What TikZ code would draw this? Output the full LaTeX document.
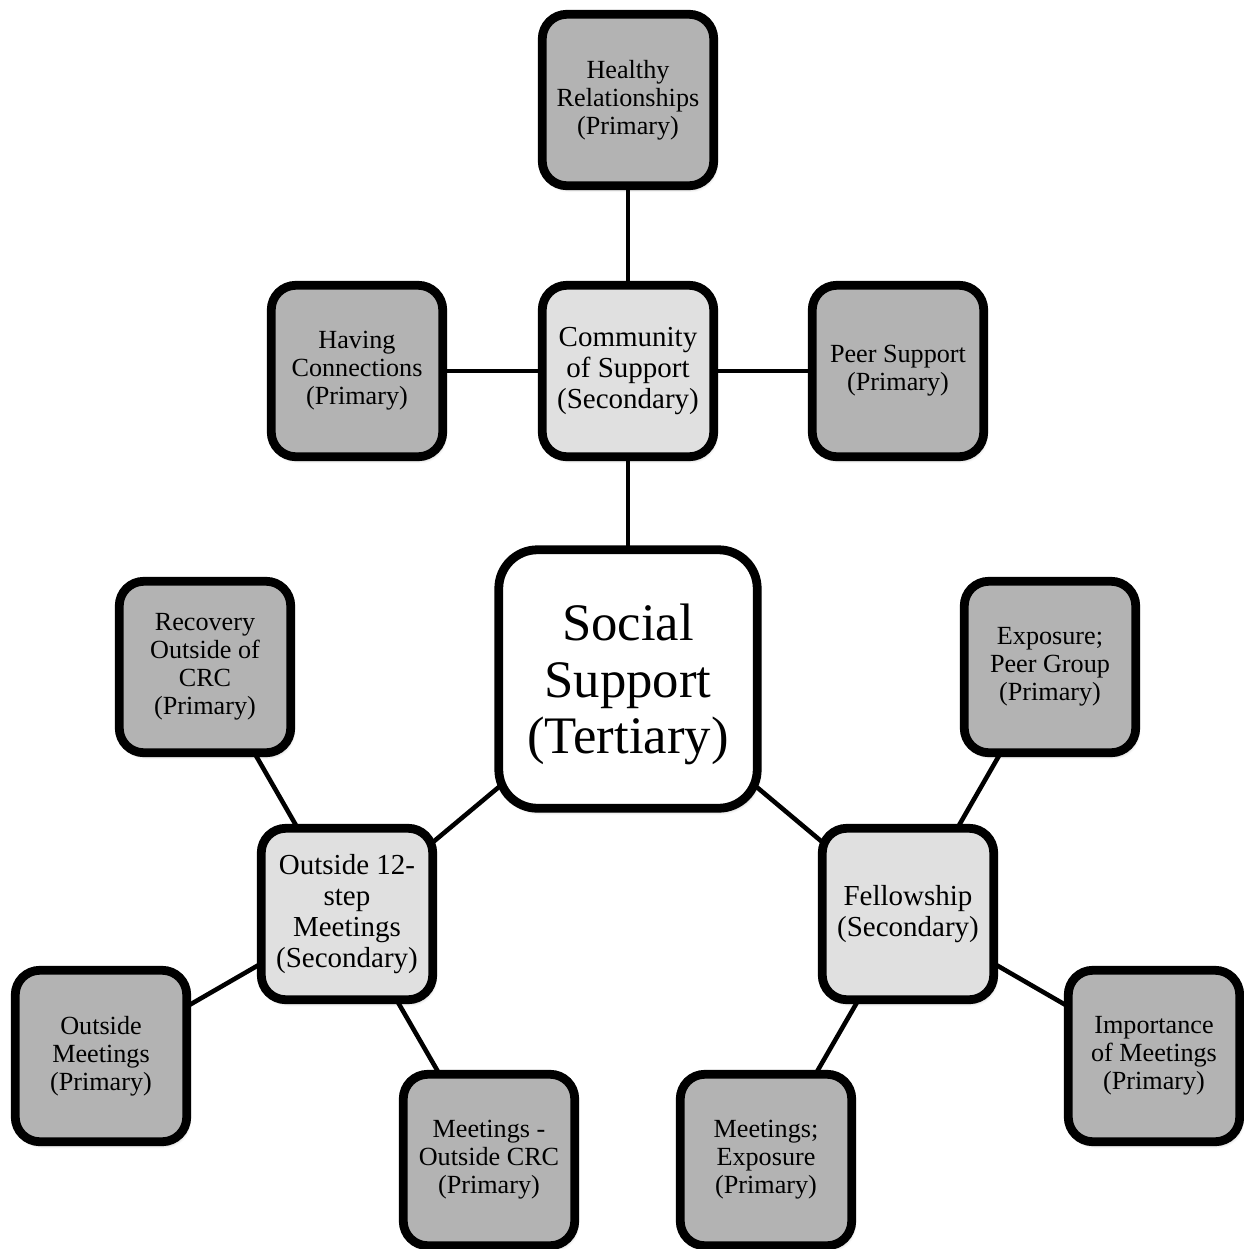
\documentclass[tikz,border=0pt]{standalone}
\usepackage{fontspec}
\setmainfont{Liberation Serif}
\usetikzlibrary{backgrounds,shadows.blur}

\definecolor{primgray}{RGB}{179,179,179}
\definecolor{secgray}{RGB}{224,224,224}

\tikzset{
  box/.style={draw=black, line width=5pt, rounded corners=14pt,
    minimum width=3.43cm, minimum height=3.43cm, align=center, inner sep=2pt,
    blur shadow={shadow xshift=1pt, shadow yshift=-2pt, shadow blur steps=5, shadow opacity=30}},
  primary/.style={box, fill=primgray, font=\fontsize{14.9}{16}\selectfont},
  secondary/.style={box, fill=secgray, font=\fontsize{16.5}{17.6}\selectfont},
  tertiary/.style={box, fill=white, rounded corners=22pt,
    minimum width=5.17cm, minimum height=5.17cm, font=\fontsize{30}{32.4}\selectfont},
  link/.style={line width=2.6pt}
}

\begin{document}
\begin{tikzpicture}[x=0.02cm,y=-0.02cm]
    \useasboundingbox (0,0) rectangle (1244,1249);

    % centre
    \node[tertiary] (social) at (628,679) {\rule{0pt}{27pt}Social\\Support\\(Tertiary)};

    % secondary themes
    \node[secondary] (community) at (628,371) {Community\\of Support\\(Secondary)};
    \node[secondary] (outside12) at (347,914) {Outside 12-\\step\\Meetings\\(Secondary)};
    \node[secondary] (fellowship) at (908,914) {Fellowship\\(Secondary)};

    % primary themes
    \node[primary] (healthy) at (628,100) {Healthy\\Relationships\\(Primary)};
    \node[primary] (having) at (357,371) {Having\\Connections\\(Primary)};
    \node[primary] (peer) at (898,371) {Peer Support\\(Primary)};
    \node[primary] (recovery) at (205,667) {Recovery\\Outside of\\CRC\\(Primary)};
    \node[primary] (outsidemeet) at (101,1056) {Outside\\Meetings\\(Primary)};
    \node[primary] (meetcrc) at (489,1160) {Meetings -\\Outside CRC\\(Primary)};
    \node[primary] (exposure) at (1050,667) {Exposure;\\Peer Group\\(Primary)};
    \node[primary] (meetexp) at (766,1160) {Meetings;\\Exposure\\(Primary)};
    \node[primary] (importance) at (1154,1056) {Importance\\of Meetings\\(Primary)};

    \begin{scope}[on background layer]
        \foreach \a/\b in {social/community, social/outside12, social/fellowship,
            community/healthy, community/having, community/peer,
            outside12/recovery, outside12/outsidemeet, outside12/meetcrc,
            fellowship/exposure, fellowship/meetexp, fellowship/importance}
            \draw[link] (\a.center) -- (\b.center);
    \end{scope}
\end{tikzpicture}
\end{document}
